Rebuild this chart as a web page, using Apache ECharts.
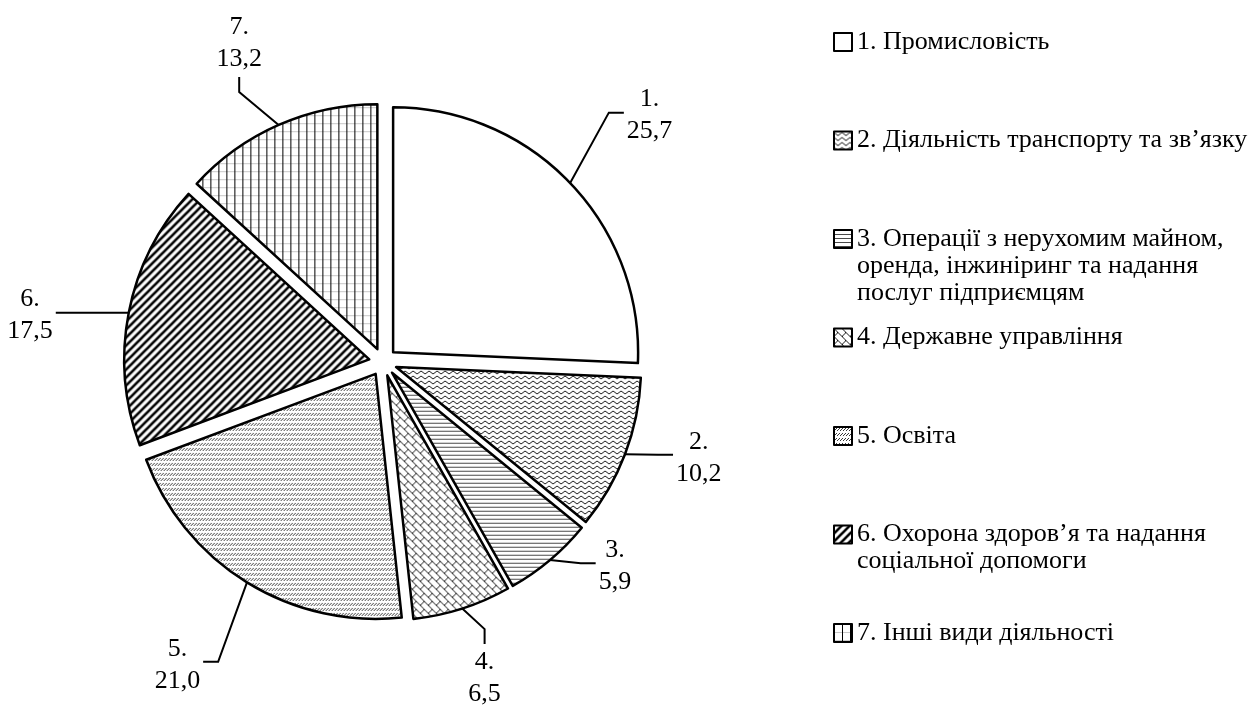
<!DOCTYPE html>
<html>
<head>
<meta charset="utf-8">
<script src="https://cdn.jsdelivr.net/npm/echarts@6/dist/echarts.min.js"></script>
<style>
  html, body { margin: 0; padding: 0; background: #fff; }
  #chart { width: 1255px; height: 711px; }
</style>
</head>
<body>
<div id="chart"></div>
<script>
// Sector numbers, names and shares (%)
const codes = ['1.', '2.', '3.', '4.', '5.', '6.', '7.'];
const categories = [
  'Промисловість',
  'Діяльність транспорту та зв’язку',
  'Операції з нерухомим майном,\nоренда, інжиніринг та надання\nпослуг підприємцям',
  'Державне управління',
  'Освіта',
  'Охорона здоров’я та надання\nсоціальної допомоги',
  'Інші види діяльності'
];
const shares = [25.7, 10.2, 5.9, 6.5, 21.0, 17.5, 13.2];

// Pie geometry
const CX = 383, CY = 362, R = 245, OFFSET = 14;
// Label placement around the pie: angular shift (deg) from the slice middle, distance from centre (px)
const labelShift = [1, -4, -8.5, 0, 2.5, -3.5, -0.5];
const labelDist = [363, 330, 309, 332, 366, 356, 350];

const FONT = "'Liberation Serif', 'Times New Roman', serif";

// Hatch fills drawn on small repeating tiles
function tile(w, h, draw) {
  const c = document.createElement('canvas');
  c.width = w; c.height = h;
  const g = c.getContext('2d');
  g.fillStyle = '#fff';
  g.fillRect(0, 0, w, h);
  draw(g, w, h);
  return { image: c, repeat: 'repeat' };
}
const fills = [
  '#ffffff',
  // zig-zag
  tile(8, 5, g => {
    g.strokeStyle = '#1a1a1a'; g.lineWidth = 1;
    g.beginPath(); g.moveTo(0, 1); g.lineTo(4, 4); g.lineTo(8, 1); g.stroke();
  }),
  // horizontal lines
  tile(4, 4, g => { g.fillStyle = '#4a4a4a'; g.fillRect(0, 0, 4, 1); }),
  // diagonal brick
  tile(8, 8, g => {
    g.fillStyle = '#1a1a1a';
    for (let i = 0; i < 8; i++) g.fillRect(i, i, 1, 1);
    for (let i = 0; i < 4; i++) g.fillRect(3 - i, 4 + i, 1, 1);
  }),
  // dashed upward diagonal
  tile(3, 5, g => {
    g.fillStyle = '#3a3a3a';
    g.fillRect(0, 3, 1, 1); g.fillRect(1, 2, 1, 1); g.fillRect(2, 1, 1, 1);
  }),
  // wide upward diagonal
  tile(8, 8, g => {
    g.strokeStyle = '#000'; g.lineWidth = 2.6;
    g.beginPath();
    g.moveTo(-1, 1); g.lineTo(1, -1);
    g.moveTo(-1, 9); g.lineTo(9, -1);
    g.moveTo(7, 9); g.lineTo(9, 7);
    g.stroke();
  }),
  // vertical lines over faint horizontal grid
  tile(8, 8, g => {
    g.fillStyle = '#c8c8c8'; g.fillRect(0, 0, 8, 1);
    g.fillStyle = '#000'; g.fillRect(0, 0, 1, 8);
  })
];

const total = shares.reduce((a, b) => a + b, 0);
const mids = [];
let acc = 0;
shares.forEach(v => { mids.push((acc + v / 2) / total * 360); acc += v; });

const fmt = v => v.toFixed(1).replace('.', ',');

const chart = echarts.init(document.getElementById('chart'), null, { renderer: 'canvas' });

// One legend block per entry, first text lines evenly spaced
const LEG_L = 27;
const legends = categories.map((name, i) => {
  const n = name.split('\n').length;
  const c = 42 + i * 98.5;
  return {
    data: [name],
    orient: 'vertical',
    left: 833,
    top: c - (2 * n - 1) * LEG_L / 2,
    padding: 0,
    icon: 'rect',
    itemWidth: 18,
    itemHeight: 18,
    selectedMode: false,
    itemStyle: { borderColor: '#000', borderWidth: 2 },
    // leading blank lines keep the marker level with the first text line
    formatter: nm => '\n'.repeat(n - 1) + codes[categories.indexOf(nm)] + ' ' + nm,
    textStyle: { fontFamily: FONT, fontSize: 26, color: '#000', lineHeight: LEG_L }
  };
});

const pieBase = {
  type: 'pie',
  center: [CX, CY],
  radius: R,
  startAngle: 90,
  clockwise: true,
  avoidLabelOverlap: false,
  emphasis: { disabled: true }
};

chart.setOption({
  animation: false,
  backgroundColor: '#fff',
  legend: legends,
  series: [
    // exploded sectors
    Object.assign({}, pieBase, {
      selectedMode: 'multiple',
      selectedOffset: OFFSET,
      itemStyle: { borderColor: '#000', borderWidth: 2.5 },
      select: { itemStyle: { borderColor: '#000', borderWidth: 2.5 } },
      label: { show: false },
      labelLine: { show: false },
      data: categories.map((name, i) => ({
        name: name,
        value: shares[i],
        selected: true,
        itemStyle: { color: fills[i] },
        select: { itemStyle: { color: fills[i] } }
      }))
    }),
    // value labels with leader lines
    Object.assign({}, pieBase, {
      silent: true,
      z: 3,
      itemStyle: { color: 'rgba(0,0,0,0)', borderWidth: 0 },
      label: {
        show: true,
        position: 'outside',
        fontFamily: FONT, fontSize: 26, lineHeight: 32, color: '#000',
        align: 'center',
        formatter: p => codes[p.dataIndex] + '\n' + fmt(p.value)
      },
      labelLine: { show: true, length: 20, length2: 15, lineStyle: { color: '#000', width: 2 } },
      labelLayout: function (p) {
        const i = p.dataIndex;
        const a = mids[i] * Math.PI / 180;
        const ax = Math.sin(a), ay = -Math.cos(a);
        const p0 = [CX + (R + OFFSET) * ax, CY + (R + OFFSET) * ay];
        const b = (mids[i] + labelShift[i]) * Math.PI / 180;
        const lx = CX + labelDist[i] * Math.sin(b);
        const ly = CY - labelDist[i] * Math.cos(b);
        const w = p.labelRect.width, h = p.labelRect.height;
        let A, E;
        if (Math.abs(ax) >= 0.5) {
          const s = ax > 0 ? -1 : 1;
          A = [lx + s * (w / 2 + 3), ly - 3];
          E = [A[0] + s * 15, A[1]];
        } else {
          const s = ay > 0 ? -1 : 1;
          A = [lx, ly + s * (h / 2 + 2)];
          E = [lx, A[1] + s * 15];
        }
        return { x: lx, y: ly, align: 'center', verticalAlign: 'middle', labelLinePoints: [p0, E, A] };
      },
      data: categories.map((name, i) => ({ name: name, value: shares[i] }))
    })
  ]
});
</script>
</body>
</html>
